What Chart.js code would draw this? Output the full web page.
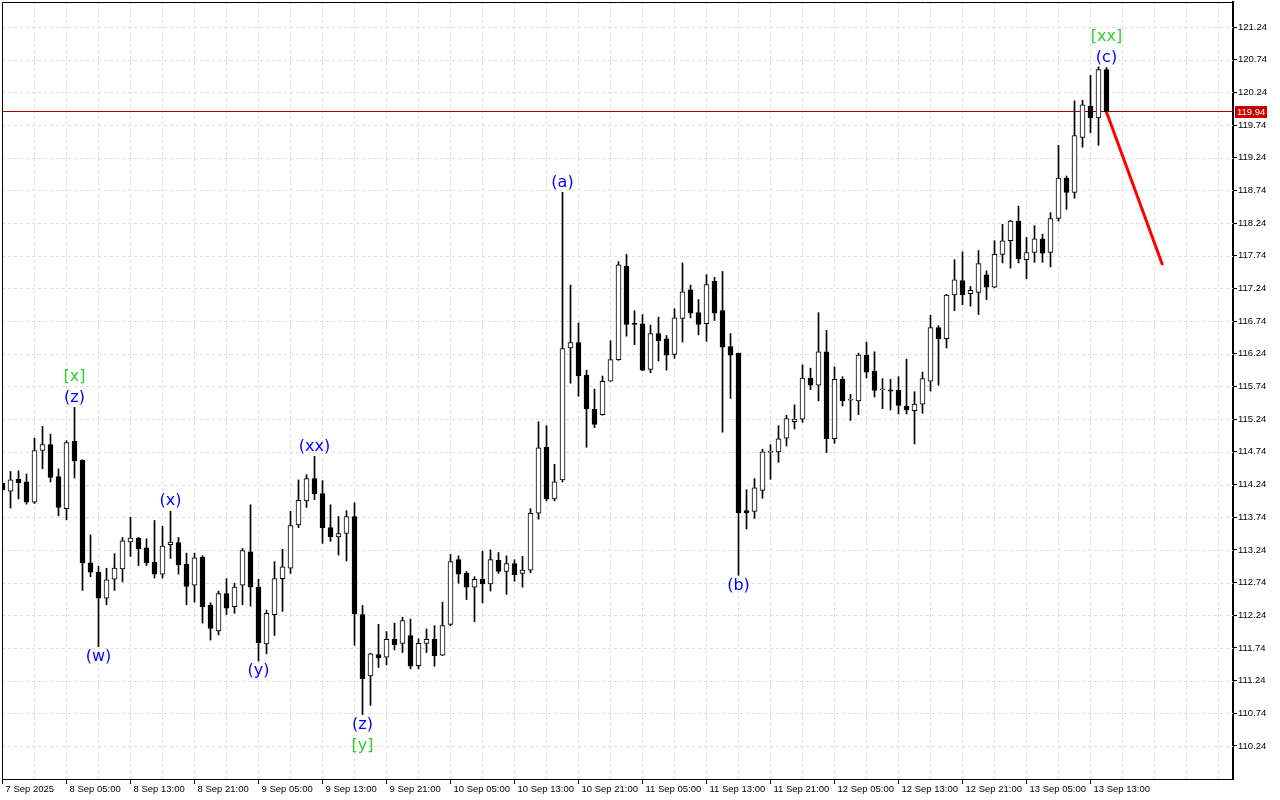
<!DOCTYPE html>
<html>
<head>
<meta charset="utf-8">
<script src="https://cdn.jsdelivr.net/npm/chart.js@4.4.1/dist/chart.umd.min.js"></script>
<style>
  html, body { margin: 0; padding: 0; background: #fff; }
  #chart { display: block; }
</style>
</head>
<body>
<canvas id="chart" width="1280" height="800"></canvas>
<script>
// hourly candles, 7 Sep 21:00 .. 13 Sep 15:00
const openPrice = [
  114.26, 114.14, 114.32, 114.28, 113.97, 114.76, 114.85, 114.36, 113.87, 114.90,
  114.61, 113.04, 112.90, 112.50, 112.79, 112.95, 113.36, 113.42, 113.27, 113.05,
  112.87, 113.32, 113.35, 113.02, 112.70, 113.13, 112.39, 112.00, 112.57, 112.37,
  112.70, 113.21, 112.67, 111.80, 112.25, 112.80, 112.96, 113.62, 113.99, 114.33,
  114.10, 113.58, 113.44, 113.49, 113.75, 112.25, 111.31, 111.64, 111.60, 111.87,
  111.81, 111.93, 111.47, 111.81, 111.87, 111.63, 112.10, 113.09, 112.88, 112.67,
  112.79, 112.72, 113.08, 112.91, 113.03, 112.88, 112.93, 113.80, 114.81, 114.02,
  114.31, 116.33, 116.41, 115.91, 115.39, 115.31, 115.82, 116.15, 117.58, 116.70,
  116.70, 116.00, 116.55, 116.47, 116.23, 116.78, 117.22, 116.87, 116.70, 117.35,
  116.90, 116.35, 116.25, 113.84, 113.83, 114.15, 114.73, 114.74, 114.95, 115.20,
  115.24, 115.87, 115.76, 116.27, 114.94, 115.85, 115.53, 115.52, 116.22, 115.97,
  115.69, 115.69, 115.68, 115.44, 115.37, 115.47, 115.82, 116.64, 116.47, 117.14,
  117.36, 117.16, 117.18, 117.45, 117.26, 117.76, 117.97, 118.27, 117.68, 117.79,
  118.00, 117.79, 118.31, 118.93, 118.71, 119.55, 120.03, 119.85, 120.59
];
const highPrice = [
  114.27, 114.44, 114.45, 114.40, 114.95, 115.13, 115.01, 114.48, 114.91, 115.42,
  114.62, 113.47, 112.99, 112.96, 113.18, 113.43, 113.74, 113.43, 113.41, 113.69,
  113.60, 113.83, 113.43, 113.19, 113.19, 113.15, 112.43, 112.61, 112.80, 112.73,
  113.26, 113.93, 112.79, 112.32, 113.06, 113.25, 113.83, 114.31, 114.39, 114.67,
  114.30, 113.93, 113.75, 113.84, 113.96, 112.39, 111.66, 112.10, 111.99, 112.12,
  112.21, 112.18, 111.88, 112.03, 112.08, 112.44, 113.17, 113.15, 112.91, 112.83,
  113.22, 113.24, 113.20, 113.15, 113.09, 113.14, 113.87, 115.20, 115.14, 114.55,
  118.71, 117.29, 116.71, 115.99, 115.70, 115.90, 116.44, 117.65, 117.76, 116.90,
  116.84, 116.68, 116.80, 116.52, 116.93, 117.63, 117.29, 117.07, 117.45, 117.41,
  117.50, 116.55, 116.25, 114.16, 114.33, 114.78, 114.85, 115.14, 115.30, 115.46,
  116.07, 116.02, 116.87, 116.60, 116.04, 115.89, 115.62, 116.25, 116.42, 116.27,
  115.86, 115.85, 115.89, 116.16, 115.66, 115.96, 116.83, 116.67, 117.15, 117.68,
  117.80, 117.27, 117.82, 117.51, 117.97, 118.22, 118.28, 118.50, 118.02, 118.20,
  118.07, 118.40, 119.43, 118.96, 120.11, 120.12, 120.50, 120.63, 120.62
];
const lowPrice = [
  114.15, 113.88, 114.02, 113.94, 113.95, 114.48, 114.28, 113.76, 113.70, 114.34,
  112.62, 112.83, 111.76, 112.40, 112.62, 112.75, 113.14, 113.00, 113.00, 112.81,
  112.81, 113.11, 112.87, 112.40, 112.44, 112.12, 111.86, 111.94, 112.25, 112.27,
  112.40, 112.38, 111.54, 111.65, 111.93, 112.30, 112.88, 113.58, 113.89, 114.01,
  113.34, 113.37, 113.16, 113.07, 111.78, 110.72, 110.86, 111.44, 111.48, 111.71,
  111.67, 111.42, 111.42, 111.67, 111.46, 111.62, 112.08, 112.73, 112.48, 112.14,
  112.43, 112.61, 112.88, 112.56, 112.76, 112.67, 112.89, 113.71, 113.99, 113.99,
  114.28, 115.79, 115.59, 114.81, 115.11, 115.30, 115.82, 116.14, 116.51, 116.38,
  115.98, 115.95, 116.13, 115.99, 116.17, 116.42, 116.79, 116.53, 116.43, 116.75,
  115.04, 115.56, 112.85, 113.56, 113.72, 114.03, 114.32, 114.58, 114.83, 115.09,
  115.19, 115.69, 115.52, 114.73, 114.87, 115.44, 115.22, 115.31, 115.87, 115.58,
  115.40, 115.38, 115.32, 115.32, 114.86, 115.33, 115.67, 115.76, 116.33, 116.90,
  116.99, 116.97, 116.84, 117.07, 117.25, 117.63, 117.55, 117.63, 117.39, 117.64,
  117.64, 117.57, 118.27, 118.45, 118.62, 119.40, 119.62, 119.43, 119.90
];
const closePrice = [
  114.16, 114.31, 114.27, 113.97, 114.76, 114.85, 114.35, 113.89, 114.88, 114.60,
  113.04, 112.90, 112.50, 112.78, 112.96, 113.38, 113.42, 113.26, 113.04, 112.87,
  113.30, 113.36, 113.01, 112.68, 113.12, 112.37, 112.04, 112.57, 112.35, 112.67,
  113.23, 112.67, 111.82, 112.27, 112.80, 112.98, 113.61, 114.00, 114.33, 114.10,
  113.58, 113.44, 113.49, 113.75, 112.26, 111.27, 111.65, 111.59, 111.87, 111.79,
  112.16, 111.46, 111.81, 111.87, 111.62, 112.08, 113.06, 112.87, 112.67, 112.79,
  112.72, 113.09, 112.91, 113.03, 112.86, 112.93, 113.80, 114.80, 114.02, 114.28,
  116.32, 116.41, 115.90, 115.40, 115.16, 115.82, 116.15, 117.60, 116.69, 116.69,
  115.99, 116.55, 116.44, 116.22, 116.79, 117.19, 116.86, 116.69, 117.30, 116.86,
  116.34, 116.22, 113.81, 113.81, 114.19, 114.74, 114.75, 114.94, 115.25, 115.24,
  115.87, 115.76, 116.27, 114.94, 115.85, 115.52, 115.53, 116.22, 115.96, 115.68,
  115.69, 115.67, 115.45, 115.38, 115.47, 115.86, 116.64, 116.47, 117.14, 117.37,
  117.14, 117.21, 117.62, 117.26, 117.76, 117.97, 118.27, 117.69, 117.79, 118.00,
  117.78, 118.31, 118.93, 118.71, 119.58, 120.05, 119.85, 120.59, 119.94
];

const timeTickIndex = [0, 8, 16, 24, 32, 40, 48, 56, 64, 72, 80, 88, 96, 104, 112, 120, 128, 136];
const timeTickLabels = [
  '7 Sep 2025', '8 Sep 05:00', '8 Sep 13:00', '8 Sep 21:00', '9 Sep 05:00', '9 Sep 13:00',
  '9 Sep 21:00', '10 Sep 05:00', '10 Sep 13:00', '10 Sep 21:00', '11 Sep 05:00', '11 Sep 13:00',
  '11 Sep 21:00', '12 Sep 05:00', '12 Sep 13:00', '12 Sep 21:00', '13 Sep 05:00', '13 Sep 13:00'
];
const priceTicks = [110.24, 110.74, 111.24, 111.74, 112.24, 112.74, 113.24, 113.74, 114.24, 114.74,
  115.24, 115.74, 116.24, 116.74, 117.24, 117.74, 118.24, 118.74, 119.24, 119.74, 120.24, 120.74, 121.24];

const lastPrice = 119.94;
const forecastIndex = [138, 145];
const forecastPrice = [119.94, 117.60];

const waveIndex = [9, 12, 21, 32, 39, 45, 70, 92, 138];
const waveText = ['(z)', '(w)', '(x)', '(y)', '(xx)', '(z)', '(a)', '(b)', '(c)'];
const waveSide = ['high', 'low', 'high', 'low', 'high', 'low', 'high', 'low', 'high'];
const degreeIndex = [9, 45, 138];
const degreeText = ['[x]', '[y]', '[xx]'];
const degreeSide = ['high', 'low', 'high'];

const axisFont = { family: '"Liberation Sans", Arial, sans-serif', size: 9.5 };

const bodies = openPrice.map((o, i) => ({ x: i, y: [o, closePrice[i]] }));
const wicks = lowPrice.map((l, i) => ({ x: i, y: [l, highPrice[i]] }));
const bodyColors = openPrice.map((o, i) => closePrice[i] >= o ? '#ffffff' : '#000000');

// no extra room for end labels, the plot goes edge to edge
function noPadding(axis) {
  axis.paddingTop = 0;
  axis.paddingBottom = 0;
  axis.paddingLeft = 0;
  axis.paddingRight = 0;
}

const gridLines = {
  id: 'gridLines',
  beforeDatasetsDraw(chart) {
    const { ctx, chartArea: a, scales: { x, y } } = chart;
    ctx.save();
    ctx.strokeStyle = '#dddddd';
    ctx.lineWidth = 1;
    ctx.setLineDash([3, 3]);
    ctx.beginPath();
    for (let i = 0; i <= x.max; i += 4) {
      const px = Math.floor(x.getPixelForValue(i)) + 0.5;
      ctx.moveTo(px, a.top);
      ctx.lineTo(px, a.bottom);
    }
    priceTicks.forEach(v => {
      const py = Math.round(y.getPixelForValue(v)) + 0.5;
      ctx.moveTo(a.left, py);
      ctx.lineTo(a.right, py);
    });
    ctx.stroke();
    ctx.setLineDash([]);
    // bid line
    const by = Math.round(y.getPixelForValue(lastPrice)) - 0.5;
    ctx.strokeStyle = '#a80000';
    ctx.beginPath();
    ctx.moveTo(a.left, by);
    ctx.lineTo(a.right, by);
    ctx.stroke();
    ctx.restore();
  }
};

const waveMarks = {
  id: 'waveMarks',
  afterDatasetsDraw(chart) {
    const { ctx, scales: { x, y } } = chart;
    ctx.save();
    ctx.font = '16px "DejaVu Sans", sans-serif';
    ctx.textAlign = 'center';
    ctx.textBaseline = 'middle';
    const place = (i, side, step) => side === 'high'
      ? y.getPixelForValue(highPrice[i]) - 10 - step * 21
      : y.getPixelForValue(lowPrice[i]) + 10 + step * 21;
    ctx.fillStyle = '#0000ff';
    waveIndex.forEach((i, k) => ctx.fillText(waveText[k], x.getPixelForValue(i), place(i, waveSide[k], 0)));
    ctx.fillStyle = '#32cd32';
    degreeIndex.forEach((i, k) => ctx.fillText(degreeText[k], x.getPixelForValue(i), place(i, degreeSide[k], 1)));
    ctx.restore();
  },
  afterDraw(chart) {
    const { ctx, chartArea: a, scales: { y } } = chart;
    ctx.save();
    ctx.strokeStyle = '#000';
    ctx.lineWidth = 1;
    ctx.beginPath();
    ctx.moveTo(a.left + 0.5, a.bottom);
    ctx.lineTo(a.left + 0.5, a.top + 0.5);
    ctx.lineTo(a.right, a.top + 0.5);
    ctx.stroke();
    const py = Math.round(y.getPixelForValue(lastPrice));
    ctx.fillStyle = '#c80000';
    ctx.fillRect(a.right + 2, py - 6, 32, 12);
    ctx.fillStyle = '#ffffff';
    ctx.font = axisFont.size + 'px ' + axisFont.family;
    ctx.textAlign = 'left';
    ctx.textBaseline = 'middle';
    ctx.fillText(lastPrice.toFixed(2), a.right + 4, py);
    ctx.restore();
  }
};

new Chart(document.getElementById('chart'), {
  type: 'bar',
  data: {
    datasets: [
      {
        type: 'line',
        data: forecastIndex.map((v, k) => ({ x: v, y: forecastPrice[k] })),
        borderColor: '#ff0000',
        borderWidth: 3,
        pointRadius: 0,
        order: 0
      },
      {
        data: bodies,
        backgroundColor: bodyColors,
        borderColor: '#000000',
        borderWidth: 1,
        borderSkipped: false,
        barThickness: 5,
        minBarLength: 1,
        grouped: false,
        order: 1
      },
      {
        data: wicks,
        backgroundColor: '#000000',
        borderWidth: 0,
        barThickness: 1,
        grouped: false,
        order: 2
      }
    ]
  },
  options: {
    responsive: false,
    animation: false,
    devicePixelRatio: 1,
    layout: { padding: { left: 2, top: 2, right: 0, bottom: 0 } },
    plugins: { legend: { display: false }, tooltip: { enabled: false } },
    scales: {
      x: {
        type: 'linear',
        min: -0.0625,
        max: 153.8125,
        offset: false,
        afterBuildTicks: axis => { axis.ticks = timeTickIndex.map(v => ({ value: v })); },
        afterFit: axis => { axis.height = 21; noPadding(axis); },
        grid: { offset: false, drawOnChartArea: false, drawTicks: true, tickLength: 5, tickColor: '#000', tickWidth: 1 },
        border: { display: true, color: '#000', width: 1 },
        ticks: {
          align: 'start',
          labelOffset: 3,
          padding: 0,
          minRotation: 0,
          maxRotation: 0,
          autoSkip: false,
          color: '#000',
          font: axisFont,
          callback: v => timeTickLabels[timeTickIndex.indexOf(v)]
        }
      },
      y: {
        position: 'right',
        min: 109.7345,
        max: 121.6225,
        afterBuildTicks: axis => { axis.ticks = priceTicks.map(v => ({ value: v })); },
        afterFit: axis => { axis.width = 47; noPadding(axis); },
        grid: { drawOnChartArea: false, drawTicks: true, tickLength: 4, tickColor: '#000' },
        border: { display: true, color: '#000', width: 2 },
        ticks: {
          padding: 1,
          crossAlign: 'near',
          color: '#000',
          font: axisFont,
          callback: v => v.toFixed(2)
        }
      }
    }
  },
  plugins: [gridLines, waveMarks]
});
</script>
</body>
</html>
